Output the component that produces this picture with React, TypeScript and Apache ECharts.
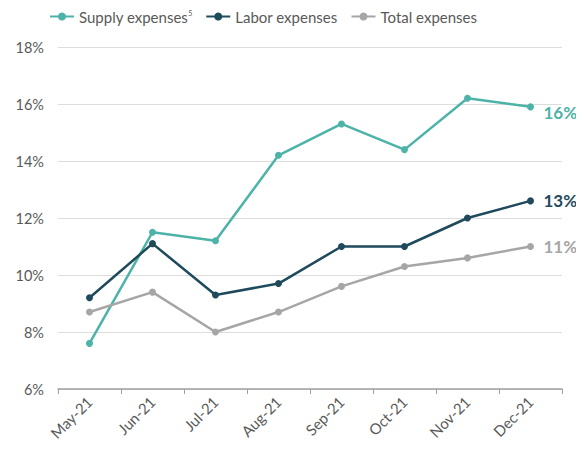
import React, { useEffect, useRef } from "react";
import * as echarts from "echarts";

const categories = ["May-21", "Jun-21", "Jul-21", "Aug-21", "Sep-21", "Oct-21", "Nov-21", "Dec-21"];
const supplyValues = [7.6, 11.5, 11.2, 14.2, 15.3, 14.4, 16.2, 15.9];
const laborValues = [9.2, 11.1, 9.3, 9.7, 11.0, 11.0, 12.0, 12.6];
const totalValues = [8.7, 9.4, 8.0, 8.7, 9.6, 10.3, 10.6, 11.0];
const endLabels = ["16%", "13%", "11%"];
const seriesNames = ["Supply expenses", "Labor expenses", "Total expenses"];

const colors = ["#4DB3A8", "#1F4A5C", "#A6A6A6"];
const FONT = "Lato, 'DejaVu Sans', sans-serif";

export default function App() {
  const ref = useRef<HTMLDivElement>(null);
  useEffect(() => {
    if (!ref.current) return;
    const chart = echarts.init(ref.current, undefined, { renderer: "svg" });
    const values = [supplyValues, laborValues, totalValues];
    chart.setOption({
      animation: false,
      backgroundColor: "#ffffff",
      textStyle: { fontFamily: FONT },
      legend: {
        top: 9,
        left: 49,
        padding: 0,
        itemWidth: 24,
        itemHeight: 10,
        itemGap: 13,
        textStyle: {
          fontFamily: FONT,
          fontSize: 15,
          color: "#595959",
          rich: {
            sup: { fontSize: 7, verticalAlign: "top", color: "#595959", padding: [0, 0, 8, 0] },
          },
        },
        formatter: (name: string) => (name === seriesNames[0] ? name + "{sup|5}" : name),
        data: seriesNames,
      },
      grid: { left: 58, right: 22, top: 47, bottom: 63 },
      xAxis: {
        type: "category",
        data: categories,
        boundaryGap: true,
        axisLine: { lineStyle: { color: "#A0A0A0", width: 1.5 } },
        axisTick: { show: true, alignWithLabel: false, length: 5, lineStyle: { color: "#A0A0A0" } },
        axisLabel: { rotate: 45, fontSize: 15, color: "#595959", fontFamily: FONT, margin: 10 },
      },
      yAxis: {
        type: "value",
        min: 6,
        max: 18,
        interval: 2,
        axisLine: { show: false },
        axisTick: { show: false },
        axisLabel: { formatter: "{value}%", fontSize: 14.5, color: "#595959", fontFamily: FONT, margin: 14 },
        splitLine: { lineStyle: { color: "#DDDDDD", width: 1 } },
      },
      series: seriesNames.map((name, i) => ({
        name,
        type: "line",
        data: values[i],
        symbol: "circle",
        symbolSize: 7,
        lineStyle: { color: colors[i], width: 2.5 },
        itemStyle: { color: colors[i] },
        endLabel: {
          show: true,
          formatter: () => endLabels[i],
          color: colors[i],
          fontSize: 17,
          fontWeight: "bold",
          fontFamily: FONT,
          distance: 13,
          offset: [0, i === 0 ? 6 : 0],
        },
      })),
    });
    return () => chart.dispose();
  }, []);
  return <div ref={ref} style={{ width: 584, height: 452, margin: -8 }} />;
}
